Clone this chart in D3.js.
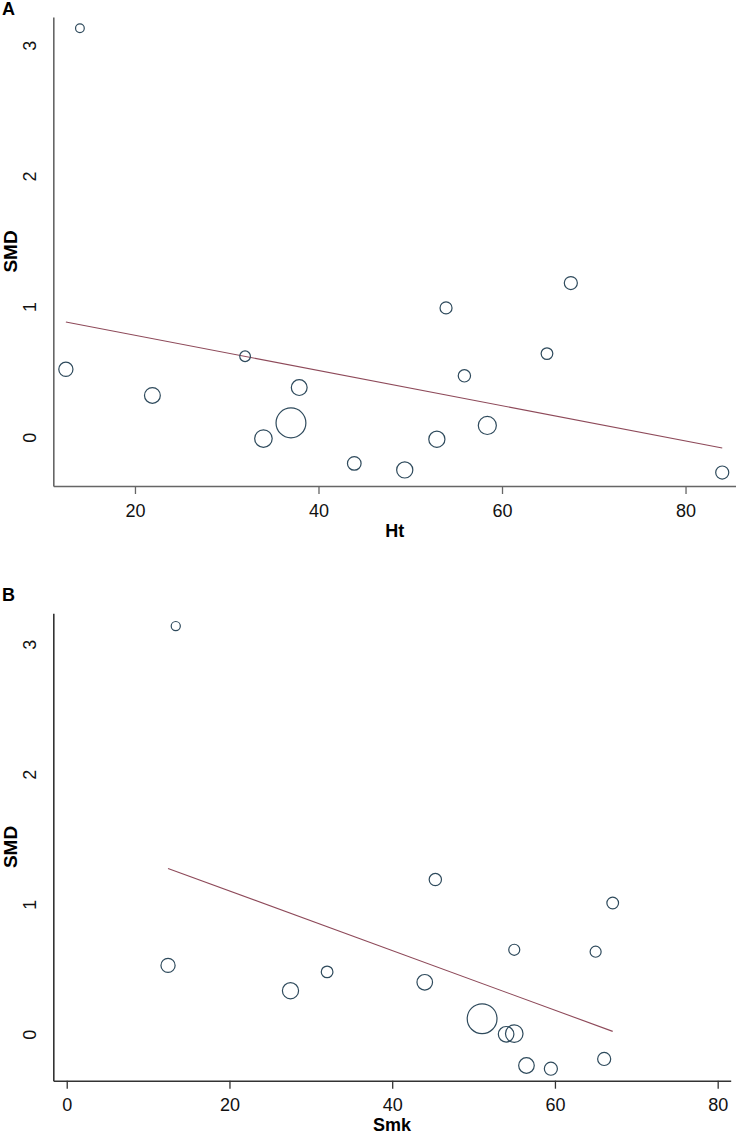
<!DOCTYPE html>
<html>
<head>
<meta charset="utf-8">
<script src="https://cdn.jsdelivr.net/npm/d3@7"></script>
<style>
  body { margin: 0; background: #fff; }
  svg { display: block; font-family: "Liberation Sans", Arial, sans-serif; }
</style>
</head>
<body>
<svg id="chart" width="736" height="1135"></svg>
<script>
// panel A: SMD vs Ht
const htX = [14.0, 12.47, 21.9, 32.0, 37.9, 34.0, 37.0, 43.9, 49.4, 53.9, 55.9, 52.9, 58.4, 64.9, 67.5, 84.0];
const htSMD = [3.13, 0.52, 0.32, 0.62, 0.38, -0.01, 0.11, -0.20, -0.25, 0.99, 0.47, -0.015, 0.09, 0.64, 1.18, -0.27];
const htWeight = [20, 53, 66, 30, 66, 81, 235, 49, 69, 38, 40, 69, 86, 36, 45, 45];
const htFit = { intercept: 1.050, slope: -0.01348 };

// panel B: SMD vs Smk
const smkX = [13.4, 12.45, 27.5, 32.0, 45.3, 55.0, 65.0, 67.1, 44.0, 51.05, 54.0, 55.0, 56.5, 59.5, 66.05];
const smkSMD = [3.14, 0.53, 0.335, 0.48, 1.19, 0.65, 0.635, 1.01, 0.40, 0.12, 0.0, 0.005, -0.24, -0.265, -0.19];
const smkWeight = [22, 53, 69, 36, 40, 32, 32, 36, 64, 234, 64, 81, 64, 45, 45];
const smkFit = { intercept: 1.561, slope: -0.02293 };

const xTicksA = [20, 40, 60, 80];
const xTicksB = [0, 20, 40, 60, 80];
const yTicks = [0, 1, 2, 3];

const svg = d3.select('#chart');
const rScale = d3.scaleSqrt().domain([0, 225]).range([0, 14.6]);

function drawPanel(opts) {
  const g = svg.append('g');
  const x = d3.scaleLinear().domain(opts.xDomain).range(opts.xRange);
  const y = d3.scaleLinear().domain(opts.yDomain).range(opts.yRange);
  const bottom = opts.yRange[0];
  const left = opts.xRange[0];

  // x axis
  const xAxis = g.append('g')
    .attr('transform', `translate(0,${bottom})`)
    .call(d3.axisBottom(x).tickValues(opts.xTicks).tickFormat(d3.format('d'))
      .tickSize(8).tickSizeOuter(0).tickPadding(10));
  xAxis.select('.domain').attr('stroke', opts.axisColor).attr('stroke-width', 1.6);
  xAxis.selectAll('.tick line').attr('stroke', opts.axisColor).attr('stroke-width', 1.3);
  xAxis.selectAll('.tick text')
    .attr('fill', '#111')
    .style('font-size', '18px');

  // y axis, no tick marks, rotated labels
  const yAxis = g.append('g')
    .attr('transform', `translate(${left},0)`)
    .call(d3.axisLeft(y).tickValues(yTicks).tickFormat(d3.format('d')).tickSize(0).tickSizeOuter(0));
  yAxis.select('.domain').attr('stroke', opts.axisColor).attr('stroke-width', 1.6);
  yAxis.selectAll('.tick text')
    .attr('transform', 'rotate(-90)')
    .attr('x', 0)
    .attr('y', -17)
    .attr('dy', 0)
    .attr('text-anchor', 'middle')
    .attr('fill', '#111')
    .style('font-size', '18px');

  // fitted line over the data range
  const ext = d3.extent(opts.xs);
  g.append('line')
    .attr('x1', x(ext[0]))
    .attr('y1', y(opts.fit.intercept + opts.fit.slope * ext[0]))
    .attr('x2', x(ext[1]))
    .attr('y2', y(opts.fit.intercept + opts.fit.slope * ext[1]))
    .attr('stroke', '#8e4a5a')
    .attr('stroke-width', 1.1);

  // bubbles
  const pts = opts.xs.map((v, i) => ({ x: v, y: opts.ys[i], w: opts.ws[i] }));
  g.selectAll('circle')
    .data(pts)
    .enter().append('circle')
    .attr('cx', d => x(d.x))
    .attr('cy', d => y(d.y))
    .attr('r', d => rScale(d.w))
    .attr('fill', 'none')
    .attr('stroke', '#2e4a5c')
    .attr('stroke-width', 1.2);

  // titles
  g.append('text')
    .attr('x', (opts.xRange[0] + opts.xRange[1]) / 2)
    .attr('y', bottom + opts.xLabelDy)
    .attr('text-anchor', 'middle')
    .style('font-size', '18px')
    .style('font-weight', 'bold')
    .text(opts.xLabel);

  g.append('text')
    .attr('transform', `translate(17,${(opts.yRange[0] + opts.yRange[1]) / 2}) rotate(-90)`)
    .attr('text-anchor', 'middle')
    .style('font-size', '19px')
    .style('font-weight', 'bold')
    .text('SMD');

  g.append('text')
    .attr('x', 2)
    .attr('y', opts.letterY)
    .style('font-size', '18px')
    .style('font-weight', 'bold')
    .text(opts.letter);
}

drawPanel({
  letter: 'A', letterY: 15, xLabel: 'Ht', xLabelDy: 51,
  xs: htX, ys: htSMD, ws: htWeight, fit: htFit, xTicks: xTicksA,
  xDomain: [11.1, 85.5], xRange: [53.3, 736],
  yDomain: [-0.373, 3.216], yRange: [486, 17],
  axisColor: '#666'
});

drawPanel({
  letter: 'B', letterY: 601, xLabel: 'Smk', xLabelDy: 50,
  xs: smkX, ys: smkSMD, ws: smkWeight, fit: smkFit, xTicks: xTicksB,
  xDomain: [-1.65, 81.6], xRange: [53.3, 730.7],
  yDomain: [-0.357, 3.238], yRange: [1080.7, 613.3],
  axisColor: '#333'
});
</script>
</body>
</html>
